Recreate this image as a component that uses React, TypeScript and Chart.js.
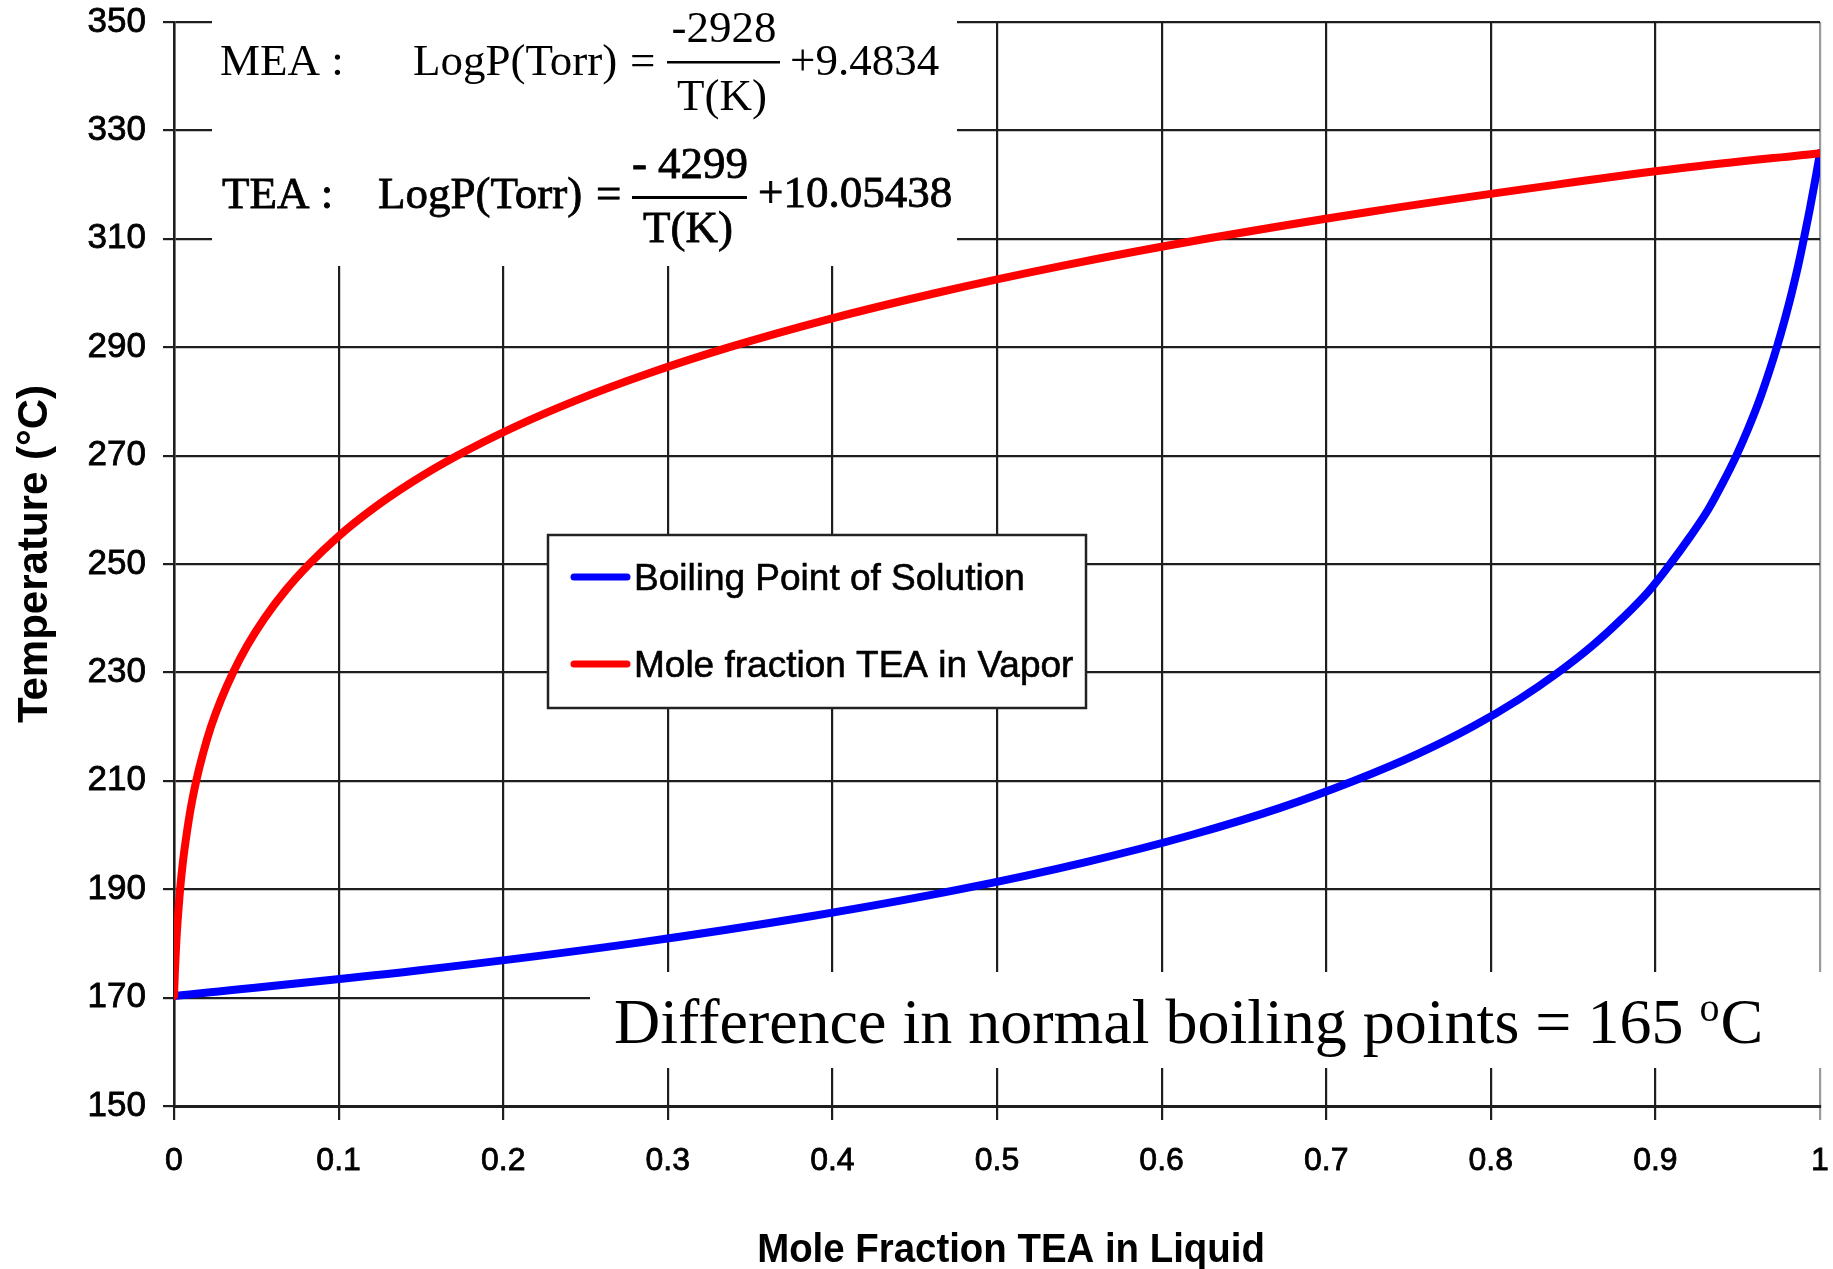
import React, { useEffect, useRef } from 'react';
import { Chart, registerables } from 'chart.js';

Chart.register(...registerables);

// ---- Data (mole fraction, temperature °C) ----
const blueX = [0, 0.148, 0.279, 0.387, 0.478, 0.554, 0.618, 0.672, 0.717, 0.756, 0.789, 0.817, 0.841, 0.862, 0.880, 0.896, 0.909, 0.921, 0.932, 0.941, 0.9492, 0.9564, 0.9629, 0.9686, 0.9738, 0.9785, 0.9828, 0.9867, 0.9902, 0.9935, 0.9966, 1];
const blueT = [170.3, 175, 180, 185, 190, 195, 200, 205, 210, 215, 220, 225, 230, 235, 240, 245, 250, 255, 260, 265, 270, 275, 280, 285, 290, 295, 300, 305, 310, 315, 320, 325.8];

const redX = [0, 0.00056, 0.00135, 0.0024, 0.0037, 0.0054, 0.0076, 0.0102, 0.0135, 0.0176, 0.0225, 0.0286, 0.0359, 0.0446, 0.055, 0.0674, 0.0822, 0.0995, 0.120, 0.1441, 0.1722, 0.2049, 0.2428, 0.2868, 0.3375, 0.3958, 0.463, 0.5394, 0.627, 0.7267, 0.840, 0.915, 1];
const redT = [170.3, 175, 180, 185, 190, 195, 200, 205, 210, 215, 220, 225, 230, 235, 240, 245, 250, 255, 260, 265, 270, 275, 280, 285, 290, 295, 300, 305, 310, 315, 320, 323, 325.8];

const seriesNames = ['Boiling Point of Solution', 'Mole fraction TEA in Vapor'];
const seriesColors = ['#0000ff', '#ff0000'];

const xTickLabels = ['0', '0.1', '0.2', '0.3', '0.4', '0.5', '0.6', '0.7', '0.8', '0.9', '1'];
const yTickLabels = ['150', '170', '190', '210', '230', '250', '270', '290', '310', '330', '350'];

const xTitle = 'Mole Fraction TEA in Liquid';
const yTitle = 'Temperature (\u00B0C)';
const noteText = 'Difference in normal boiling points = 165 ';

const SERIF = '"Liberation Serif", "Times New Roman", serif';
const SANS = '"Liberation Sans", Arial, sans-serif';

const overlayPlugin = {
  id: 'overlay',
  beforeDatasetsDraw(chart: any) {
    const ctx = chart.ctx as CanvasRenderingContext2D;
    ctx.save();
    // white boxes that hide the grid behind the texts
    ctx.fillStyle = '#ffffff';
    ctx.fillRect(212, 0, 957 - 212, 266);
    ctx.fillRect(590, 972, 1833 - 590, 96);

    ctx.fillStyle = '#000';
    ctx.strokeStyle = '#000';
    ctx.textBaseline = 'alphabetic';

    // MEA equation
    ctx.font = `45px ${SERIF}`;
    ctx.textAlign = 'left';
    ctx.fillText('MEA :', 220, 75);
    ctx.fillText('LogP(Torr)', 413, 75);
    ctx.fillText('=', 630, 75);
    ctx.textAlign = 'center';
    ctx.fillText('-2928', 724, 42);
    ctx.fillText('T(K)', 722, 110);
    ctx.textAlign = 'left';
    ctx.fillText('+9.4834', 790, 75);
    ctx.fillRect(667, 61, 113, 2.5);

    // TEA equation (slightly heavier)
    ctx.font = `45px ${SERIF}`;
    ctx.lineWidth = 0.8;
    const t = (s: string, x: number, y: number) => { ctx.fillText(s, x, y); ctx.strokeText(s, x, y); };
    ctx.textAlign = 'left';
    t('TEA :', 222, 208);
    t('LogP(Torr)', 378, 208);
    t('=', 596, 208);
    ctx.textAlign = 'center';
    t('- 4299', 690, 178);
    t('T(K)', 688, 242);
    ctx.textAlign = 'left';
    t('+10.05438', 758, 207);
    ctx.fillRect(632, 196, 115, 3);

    // Note
    ctx.font = `64px ${SERIF}`;
    ctx.textAlign = 'left';
    const nx = 614, ny = 1043;
    ctx.fillText(noteText, nx, ny);
    const w1 = ctx.measureText(noteText).width;
    ctx.font = `40px ${SERIF}`;
    ctx.fillText('o', nx + w1, ny - 22);
    const w2 = ctx.measureText('o').width;
    ctx.font = `64px ${SERIF}`;
    ctx.fillText('C', nx + w1 + w2 + 1, ny);
    ctx.restore();
  },
  afterDatasetsDraw(chart: any) {
    const ctx = chart.ctx as CanvasRenderingContext2D;
    ctx.save();
    // legend
    const bx = 548, by = 535, bw = 1086 - 548, bh = 708 - 535;
    ctx.fillStyle = '#fff';
    ctx.fillRect(bx, by, bw, bh);
    ctx.strokeStyle = '#222';
    ctx.lineWidth = 2.5;
    ctx.strokeRect(bx, by, bw, bh);
    const rows = [577, 664];
    chart.data.datasets.forEach((ds: any, i: number) => {
      const y = rows[i];
      ctx.strokeStyle = ds.borderColor;
      ctx.lineWidth = 7;
      ctx.lineCap = 'round';
      ctx.beginPath();
      ctx.moveTo(574, y);
      ctx.lineTo(627, y);
      ctx.stroke();
      ctx.fillStyle = '#000';
      ctx.strokeStyle = '#000';
      ctx.lineWidth = 0.6;
      ctx.font = `37px ${SANS}`;
      ctx.textAlign = 'left';
      ctx.textBaseline = 'alphabetic';
      ctx.fillText(ds.label, 634, y + 13);
      ctx.strokeText(ds.label, 634, y + 13);
    });

    // axis titles
    ctx.fillStyle = '#000';
    ctx.font = `bold 40px ${SANS}`;
    ctx.textAlign = 'center';
    ctx.textBaseline = 'alphabetic';
    ctx.save();
    ctx.translate(1011, 1262);
    ctx.scale(0.96, 1);
    ctx.fillText(xTitle, 0, 0);
    ctx.restore();

    ctx.save();
    ctx.font = `bold 42px ${SANS}`;
    ctx.translate(47, 554);
    ctx.rotate(-Math.PI / 2);
    ctx.fillText(yTitle, 0, 0);
    ctx.restore();

    ctx.restore();
  },
};

export default function App() {
  const ref = useRef<HTMLCanvasElement>(null);

  useEffect(() => {
    if (!ref.current) return;
    const common = {
      borderWidth: 8,
      showLine: true,
      pointRadius: 0,
      cubicInterpolationMode: 'monotone' as const,
      borderJoinStyle: 'round' as const,
      borderCapStyle: 'round' as const,
    };
    const datasets = [
      {
        ...common,
        label: seriesNames[0],
        data: blueX.map((x, i) => ({ x, y: blueT[i] })),
        borderColor: seriesColors[0],
        backgroundColor: seriesColors[0],
        order: 2,
      },
      {
        ...common,
        label: seriesNames[1],
        data: redX.map((x, i) => ({ x, y: redT[i] })),
        borderColor: seriesColors[1],
        backgroundColor: seriesColors[1],
        order: 1,
      },
    ];

    const chart = new Chart(ref.current, {
      type: 'scatter',
      data: { datasets },
      options: {
        responsive: false,
        devicePixelRatio: 1,
        animation: false,
        layout: { padding: { top: 22, right: 13, left: 0, bottom: 0 } },
        plugins: {
          legend: { display: false },
          tooltip: { enabled: false },
        },
        scales: {
          x: {
            type: 'linear',
            min: 0,
            max: 1,
            afterFit: (s: any) => {
              s.height = 163;
              s.paddingLeft = 0;
              s.paddingRight = 0;
            },
            ticks: {
              stepSize: 0.1,
              autoSkip: false,
              maxRotation: 0,
              padding: 22,
              color: '#000',
              textStrokeColor: '#000',
              textStrokeWidth: 0.8,
              font: { family: SANS, size: 32 },
              callback: (v: any) => xTickLabels[Math.round(Number(v) * 10)],
            },
            grid: {
              color: (c: any) => (c.tick && Math.abs(c.tick.value - 1) < 1e-6 ? '#9a9a9a' : '#1e1e1e'),
              lineWidth: 2.2,
              tickLength: 14,
            },
            border: { display: true, color: '#1e1e1e', width: 3 },
            title: { display: false },
          },
          y: {
            type: 'linear',
            min: 150,
            max: 350,
            afterFit: (s: any) => {
              s.width = 174;
              s.paddingTop = 0;
              s.paddingBottom = 0;
            },
            ticks: {
              stepSize: 20,
              padding: 17,
              color: '#000',
              textStrokeColor: '#000',
              textStrokeWidth: 0.8,
              font: { family: SANS, size: 35 },
              callback: (v: any) => yTickLabels[Math.round((Number(v) - 150) / 20)],
            },
            grid: {
              color: '#1e1e1e',
              lineWidth: 2.2,
              tickLength: 11,
            },
            border: { display: true, color: '#1e1e1e', width: 2.5 },
            title: { display: false },
          },
        },
      },
      plugins: [overlayPlugin],
    });
    return () => chart.destroy();
  }, []);

  return (
    <div style={{ position: 'fixed', left: 0, top: 0, width: 1833, height: 1269, background: '#fff' }}>
      <canvas ref={ref} width={1833} height={1269} style={{ display: 'block', width: 1833, height: 1269 }} />
    </div>
  );
}
